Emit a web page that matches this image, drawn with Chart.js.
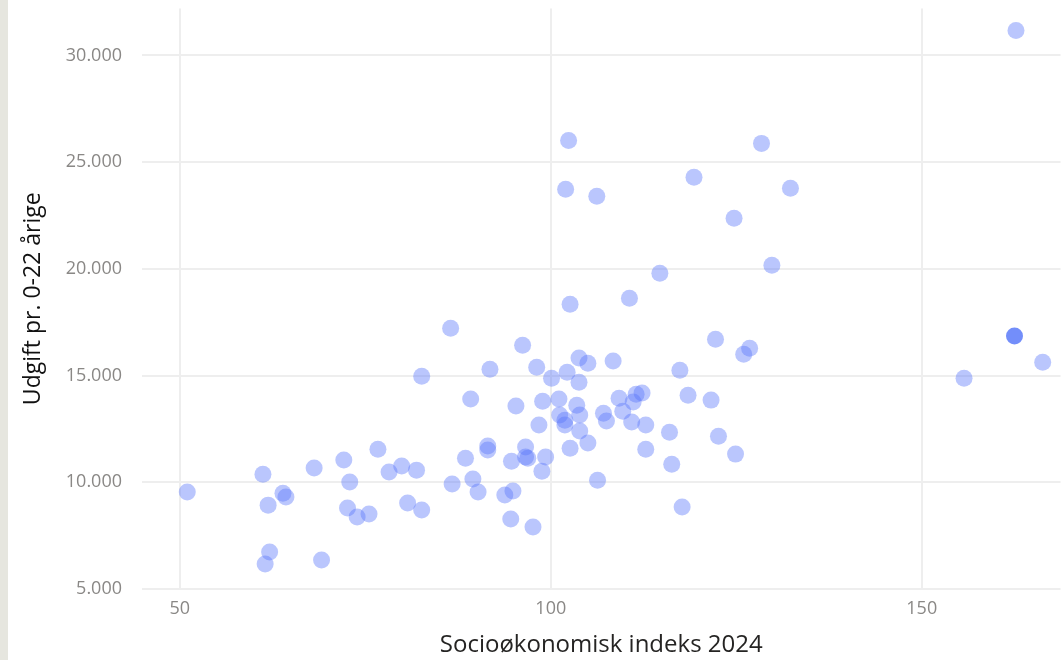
<!DOCTYPE html>
<html lang="da">

<head>
    <meta charset="UTF-8">
    <title>Udgift vs socioøkonomisk indeks</title>
    <script src="https://cdn.jsdelivr.net/npm/chart.js@4.4.1/dist/chart.umd.min.js"></script>
    <style>
        html, body { margin: 0; padding: 0; background: #ffffff; overflow: hidden; }
        #wrap {
            width: 1053px;
            height: 660px;
            border-left: 8px solid #e6e6df;
            overflow: hidden;
        }
        #chart { display: block; }
    </style>
</head>

<body>
    <div id="wrap">
        <canvas id="chart" width="1061" height="660"></canvas>
    </div>

    <script>
        // Socioøkonomisk indeks 2024 (x) og udgift pr. 0-22 årige (y), en værdi pr. kommune
        const indeks = [
            51.0, 61.2, 61.9, 62.1, 61.5, 63.9, 64.3, 68.1, 69.1, 72.1,
            72.6, 72.9, 73.9, 75.5, 76.7, 78.2, 79.9, 80.7, 81.9, 82.6,
            82.6, 86.7, 86.5, 88.5, 89.2, 89.5, 90.2, 91.5, 91.5, 91.8,
            93.8, 94.6, 94.9, 94.7, 95.3, 96.2, 96.6, 96.6, 96.9, 97.6,
            98.1, 98.4, 98.8, 98.9, 99.3, 100.1, 101.1, 101.2, 101.9, 101.9,
            102.0, 102.4, 102.6, 102.2, 102.6, 103.5, 103.8, 103.8, 103.9, 103.9,
            105.0, 105.0, 106.2, 106.3, 107.1, 107.5, 108.4, 109.2, 109.7, 110.6,
            111.1, 111.5, 112.3, 110.9, 112.8, 112.8, 114.7, 116.0, 116.3, 117.4,
            117.7, 118.5, 119.3, 121.6, 122.2, 122.6, 124.7, 124.9, 126.0, 126.8,
            128.4, 129.8, 132.3, 155.7, 162.7, 166.3
        ];
        const udgift = [
            9540, 10380, 8930, 6730, 6170, 9490, 9310, 10670, 6360, 11040,
            8790, 10010, 8370, 8510, 11550, 10480, 10760, 9030, 10570, 8700,
            14970, 9920, 17220, 11130, 13900, 10150, 9540, 11700, 11510, 15300,
            9400, 8280, 9590, 10990, 13570, 16420, 11650, 11180, 11130, 7900,
            15390, 12680, 10520, 13800, 11180, 14880, 13900, 13150, 12910, 12680,
            23730, 26020, 18340, 15160, 11600, 13610, 15820, 14690, 13150, 12400,
            15580, 11840, 23400, 10100, 13240, 12870, 15680, 13940, 13330, 18620,
            13760, 14130, 14180, 12820, 12680, 11550, 19800, 12350, 10850, 15250,
            8840, 14080, 24290, 13850, 16700, 12160, 22370, 11320, 16000, 16280,
            25880, 20170, 23780, 14880, 31170, 15630
        ];

        // den fremhævede kommune
        const fremhaevetIndeks = [162.5];
        const fremhaevetUdgift = [16850];

        const xTicks = [50, 100, 150];
        const yTicks = [5000, 10000, 15000, 20000, 25000, 30000];

        function tusind(v) {
            return String(v).replace(/\B(?=(\d{3})+(?!\d))/g, '.');
        }

        // ingen ekstra luft til tekst i kanten af plottet
        function nulPadding(axis) {
            axis.paddingTop = 0;
            axis.paddingBottom = 0;
            axis.paddingLeft = 0;
            axis.paddingRight = 0;
        }

        const punkter = indeks.map((x, i) => ({ x: x, y: udgift[i] }));
        const fremhaevet = fremhaevetIndeks.map((x, i) => ({ x: x, y: fremhaevetUdgift[i] }));

        const ctx = document.getElementById('chart').getContext('2d');
        const chart = new Chart(ctx, {
            type: 'scatter',
            data: {
                datasets: [{
                    label: 'Fremhævet',
                    data: fremhaevet,
                    backgroundColor: 'rgba(100, 130, 250, 0.9)',
                    borderWidth: 0,
                    pointRadius: 8.5,
                    pointHoverRadius: 8.5
                },
                {
                    label: 'Kommuner',
                    data: punkter,
                    backgroundColor: 'rgba(90, 120, 250, 0.42)',
                    borderWidth: 0,
                    pointRadius: 8.5,
                    pointHoverRadius: 8.5
                }]
            },
            options: {
                responsive: false,
                animation: false,
                events: [],
                layout: {
                    padding: { top: 8, left: 0, right: 0, bottom: 0 }
                },
                plugins: {
                    legend: { display: false },
                    tooltip: { enabled: false }
                },
                scales: {
                    x: {
                        type: 'linear',
                        min: 44.9,
                        max: 168.7,
                        afterBuildTicks: (axis) => {
                            axis.ticks = xTicks.map(v => ({ value: v }));
                        },
                        afterFit: (axis) => {
                            axis.height = 71;
                            nulPadding(axis);
                        },
                        border: { display: false },
                        grid: {
                            color: '#eeeeee',
                            lineWidth: 2,
                            drawTicks: false
                        },
                        ticks: {
                            color: '#8a8886',
                            padding: 9,
                            maxRotation: 0,
                            font: { family: '"Segoe UI", "Open Sans", sans-serif', size: 18 }
                        },
                        title: {
                            display: true,
                            text: 'Socioøkonomisk indeks 2024',
                            color: '#252423',
                            padding: { top: 0, bottom: 0 },
                            font: { family: '"Segoe UI", "Open Sans", sans-serif', size: 24 }
                        }
                    },
                    y: {
                        type: 'linear',
                        min: 5000,
                        max: 32200,
                        afterBuildTicks: (axis) => {
                            axis.ticks = yTicks.map(v => ({ value: v }));
                        },
                        afterFit: (axis) => {
                            axis.width = 134;
                            nulPadding(axis);
                        },
                        border: { display: false },
                        grid: {
                            color: '#eeeeee',
                            lineWidth: 2,
                            drawTicks: false
                        },
                        ticks: {
                            color: '#8a8886',
                            padding: 20,
                            callback: (v) => tusind(v),
                            font: { family: '"Segoe UI", "Open Sans", sans-serif', size: 18 }
                        },
                        title: {
                            display: true,
                            text: 'Udgift pr. 0-22 årige',
                            color: '#111111',
                            padding: { top: 12, bottom: 0 },
                            font: { family: '"Segoe UI", "Open Sans", sans-serif', size: 23 }
                        }
                    }
                }
            }
        });
    </script>
</body>

</html>
